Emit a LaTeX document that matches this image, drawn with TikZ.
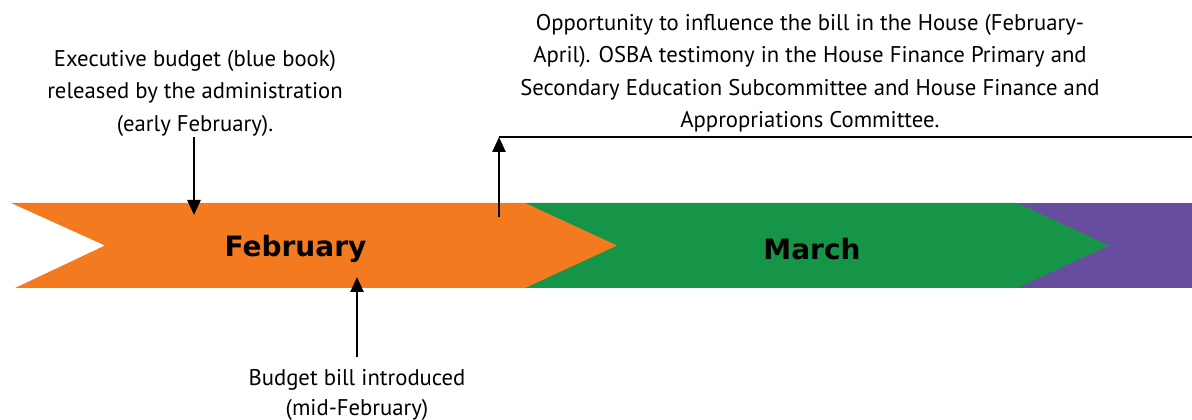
\documentclass[tikz,border=0pt]{standalone}
\usepackage{fontspec}
\setmainfont{PT Sans}
\newfontfamily\monthfont{DejaVu Sans}
\usetikzlibrary{arrows.meta}
\definecolor{forange}{HTML}{F47A20}
\definecolor{fgreen}{HTML}{169447}
\definecolor{fpurple}{HTML}{684D9E}
\tikzset{
  note/.style={align=center,font=\fontsize{22.7}{32.5}\selectfont,inner sep=0pt},
  month/.style={font=\monthfont\bfseries\fontsize{28}{30}\selectfont,inner sep=0pt},
  ptr/.style={line width=2.5pt,-{Triangle[length=15pt,width=13pt]}},
}
\begin{document}
\begin{tikzpicture}[x=1pt,y=1pt]
\useasboundingbox (0,0) rectangle (1192,420);
% bands
\fill[fpurple] (1017,217) -- (1192,217) -- (1192,132) -- (1017,132) -- cycle;
\fill[fgreen] (525,217) -- (1017,217) -- (1109,174.5) -- (1017,132) -- (525,132) -- cycle;
\fill[forange] (11,217) -- (525,217) -- (617,174.5) -- (525,132) -- (15,132) -- (105,174.5) -- cycle;
\node[month] (feb) at (295.5,171) {February};
\node[month] (mar) at (812,171) {March};
% notes
\node[note] (exec) at (195,327) {Executive budget (blue book)\\released by the administration\\(early February).};
\node[note] (opp) at (810,347) {Opportunity to influence the bill in the House (February-\\April). OSBA testimony in the House Finance Primary and\\Secondary Education Subcommittee and House Finance and\\Appropriations Committee.};
\node[note,font=\fontsize{22.7}{30}\selectfont] (intro) at (357,25) {Budget bill introduced\\(mid-February)};
% connectors
\coordinate (a1s) at (194,283);
\coordinate (a1e) at (194,205);
\draw[ptr] (a1s) -- (a1e);
\coordinate (a2s) at (357,63);
\coordinate (a2e) at (357,143);
\draw[ptr] (a2s) -- (a2e);
\coordinate (a3s) at (499,203);
\coordinate (a3e) at (499,283);
\coordinate (a3r) at (1192,283);
\draw[ptr] (a3s) -- (a3e);
\draw[line width=2.5pt] (a3e) -- (a3r);
\end{tikzpicture}
\end{document}
